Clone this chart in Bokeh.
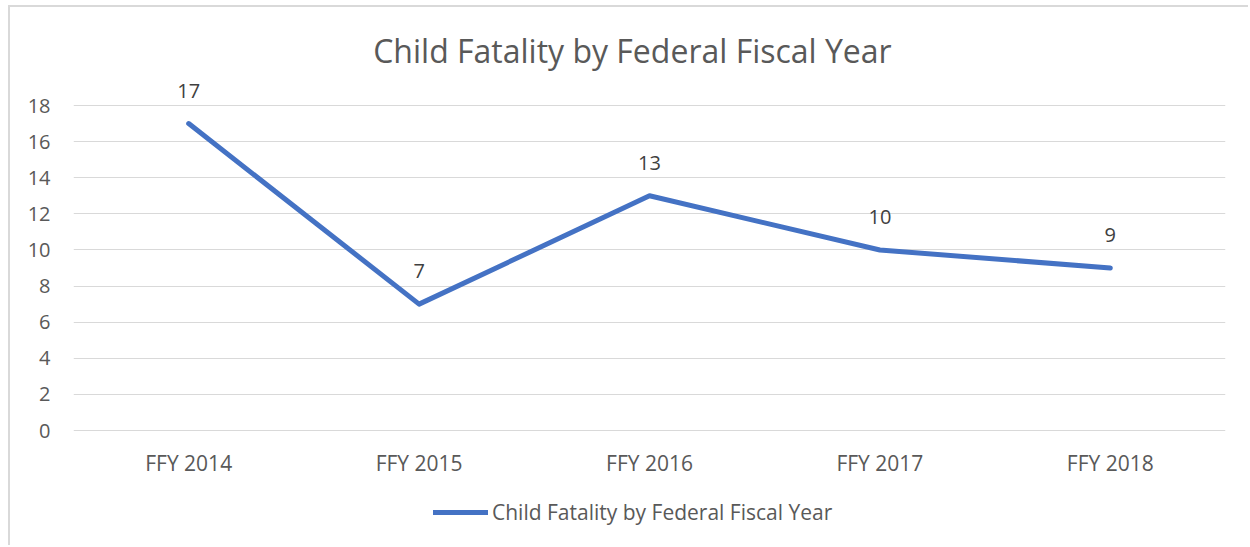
from bokeh.plotting import figure
from bokeh.models import ColumnDataSource, Range1d, FixedTicker, Legend, LegendItem, Label, LabelSet
from bokeh.core.properties import value
from bokeh.embed import file_html
from bokeh.resources import INLINE

title_text = "Child Fatality by Federal Fiscal Year"
years = ["FFY 2014", "FFY 2015", "FFY 2016", "FFY 2017", "FFY 2018"]
fatalities = [17, 7, 13, 10, 9]
y_ticks = [0, 2, 4, 6, 8, 10, 12, 14, 16, 18]
series_name = "Child Fatality by Federal Fiscal Year"

FONT = "Open Sans"
BLUE = "#4472C4"
GREY = "#595959"

src = ColumnDataSource(dict(x=years, y=fatalities, lbl=[str(v) for v in fatalities]))

p = figure(x_range=years, y_range=Range1d(-6.48, 23.43), width=1240, height=540,
           output_backend="svg", toolbar_location=None,
           min_border_left=63, min_border_right=25, min_border_top=0, min_border_bottom=0)
p.x_range.range_padding = 0
p.outline_line_color = None
p.background_fill_color = "white"
p.border_fill_color = "white"
p.styles = {"border-left": "2px solid #d9d9d9", "border-top": "2px solid #d9d9d9",
            "margin-left": "8px", "margin-top": "5px"}

p.yaxis.ticker = FixedTicker(ticks=y_ticks)
p.ygrid.grid_line_color = "#d9d9d9"
p.ygrid.grid_line_width = 1
p.xgrid.grid_line_color = None
for ax in (p.xaxis, p.yaxis):
    ax.axis_line_color = None
    ax.major_tick_line_color = None
    ax.minor_tick_line_color = None
    ax.major_tick_out = 0
    ax.major_tick_in = 0
    ax.major_label_text_font = FONT
    ax.major_label_text_color = GREY
p.yaxis.major_label_text_font_size = "20px"
p.xaxis.major_label_text_font_size = "21px"
p.yaxis.major_label_standoff = 23
p.xaxis.fixed_location = 0
p.xaxis.major_label_standoff = 18

r = p.line("x", "y", source=src, line_color=BLUE, line_width=5, line_cap="round", line_join="round")

labels = LabelSet(x="x", y="y", text="lbl", source=src, y_offset=33, x_offset=0,
                  text_align="center", text_baseline="middle",
                  text_font=value(FONT), text_font_size="20px", text_color="#404040")
p.add_layout(labels)

title = Label(x=2.426, y=21.05, text=title_text, text_align="center", text_baseline="middle",
              text_font=FONT, text_font_size="32px", text_color=GREY)
p.add_layout(title)

legend = Legend(items=[LegendItem(label=series_name, renderers=[r])],
                location=(360, 21), padding=0, margin=0, spacing=0,
                glyph_width=55, label_standoff=4,
                border_line_color=None, background_fill_alpha=0,
                label_text_font=FONT, label_text_font_size="21px", label_text_color=GREY)
p.add_layout(legend)

open("out.html", "w").write(file_html(p, INLINE))
